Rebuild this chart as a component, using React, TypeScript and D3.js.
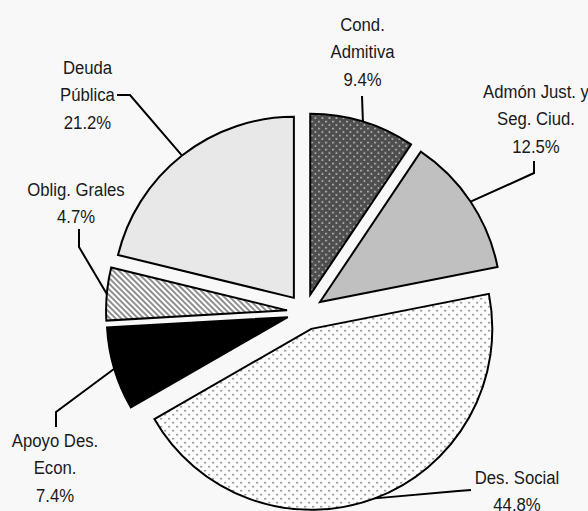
import * as d3 from "d3";

const categories = ["Cond. Admitiva", "Admón Just. y Seg. Ciud.", "Des. Social", "Apoyo Des. Econ.", "Oblig. Grales", "Deuda Pública"];
const labelLines = [["Cond.", "Admitiva"], ["Admón Just. y", "Seg. Ciud."], ["Des. Social"], ["Apoyo Des.", "Econ."], ["Oblig. Grales"], ["Deuda", "Pública"]];
const values = [9.4, 12.5, 44.8, 7.4, 4.7, 21.2];

const W = 588;
const H = 511;
const CX = 305;
const CY = 312;
const R = 181;
const EXPLODE = 18;
const LINE_H = 27.5;
const NARROW = 0.88; // the original font is a condensed sans

// label layout: centre x, first baseline, points of the leader line on the label side
const labelLayout = [
  { x: 362.5, y: 31, leader: [[362, 96]] },
  { x: 536, y: 98, leader: [[534, 161], [534, 173]] },
  { x: 517, y: 484, leader: [[471, 490], [458, 491]] },
  { x: 55, y: 447, leader: [[56, 427], [56, 412]] },
  { x: 76, y: 196, leader: [[79, 229], [79, 247]] },
  { x: 87.5, y: 74, leader: [[117, 95], [130, 95]] },
];

const fills = ["url(#pCond)", "#c0c0c0", "url(#pSocial)", "#000000", "url(#pOblig)", "#e8e8e8"];

const pct = (v: number) => d3.format(".1f")(v) + "%";

const App = () => {
  const pie = d3.pie<number>().sort(null).startAngle(0).endAngle(2 * Math.PI).value((d) => d);
  const arcs = pie(values);
  const arc = d3.arc<d3.PieArcDatum<number>>().innerRadius(0).outerRadius(R);

  return (
    <svg
      width={W}
      height={H}
      style={{ position: "absolute", left: 0, top: 0, background: "#f8f8f8" }}
      fontFamily="'Liberation Sans', Arial, sans-serif"
    >
      <defs>
        <pattern id="pSocial" width={8} height={8} patternUnits="userSpaceOnUse">
          <rect width={8} height={8} fill="#ffffff" />
          <rect x={1} y={1} width={1.6} height={1.6} fill="#707070" />
          <rect x={5} y={5} width={1.6} height={1.6} fill="#707070" />
        </pattern>
        <pattern id="pCond" width={7} height={7} patternUnits="userSpaceOnUse">
          <rect width={7} height={7} fill="#4e4e4e" />
          <rect x={1} y={1} width={1.5} height={1.5} fill="#d8d8d8" />
          <rect x={4.5} y={4.5} width={1.5} height={1.5} fill="#d8d8d8" />
        </pattern>
        <pattern id="pOblig" width={4} height={4} patternUnits="userSpaceOnUse" patternTransform="rotate(-45)">
          <rect width={4} height={4} fill="#ffffff" />
          <rect width={2} height={4} fill="#909090" />
        </pattern>
      </defs>
      <g transform={`translate(${CX},${CY})`}>
        {arcs.map((a, i) => {
          const mid = (a.startAngle + a.endAngle) / 2;
          const dx = EXPLODE * Math.sin(mid);
          const dy = -EXPLODE * Math.cos(mid);
          return (
            <path
              key={categories[i]}
              d={arc(a) ?? ""}
              transform={`translate(${dx},${dy})`}
              fill={fills[i]}
              stroke="#000"
              strokeWidth={2}
            />
          );
        })}
      </g>
      <g fill="none" stroke="#000" strokeWidth={2}>
        {arcs.map((a, i) => {
          const mid = (a.startAngle + a.endAngle) / 2;
          const ex = CX + (EXPLODE + R) * Math.sin(mid);
          const ey = CY - (EXPLODE + R) * Math.cos(mid);
          const pts = [...labelLayout[i].leader, [ex, ey]] as [number, number][];
          return <path key={categories[i]} d={d3.line()(pts) ?? ""} />;
        })}
      </g>
      <g fontSize={19} fill="#1a1a1a" textAnchor="middle">
        {labelLines.map((lines, i) => {
          const l = labelLayout[i];
          return (
            <text key={categories[i]} transform={`translate(${l.x},${l.y}) scale(${NARROW},1)`}>
              {[...lines, pct(values[i])].map((t, j) => (
                <tspan key={j} x={0} y={j * LINE_H}>
                  {t}
                </tspan>
              ))}
            </text>
          );
        })}
      </g>
    </svg>
  );
};

export default App;
